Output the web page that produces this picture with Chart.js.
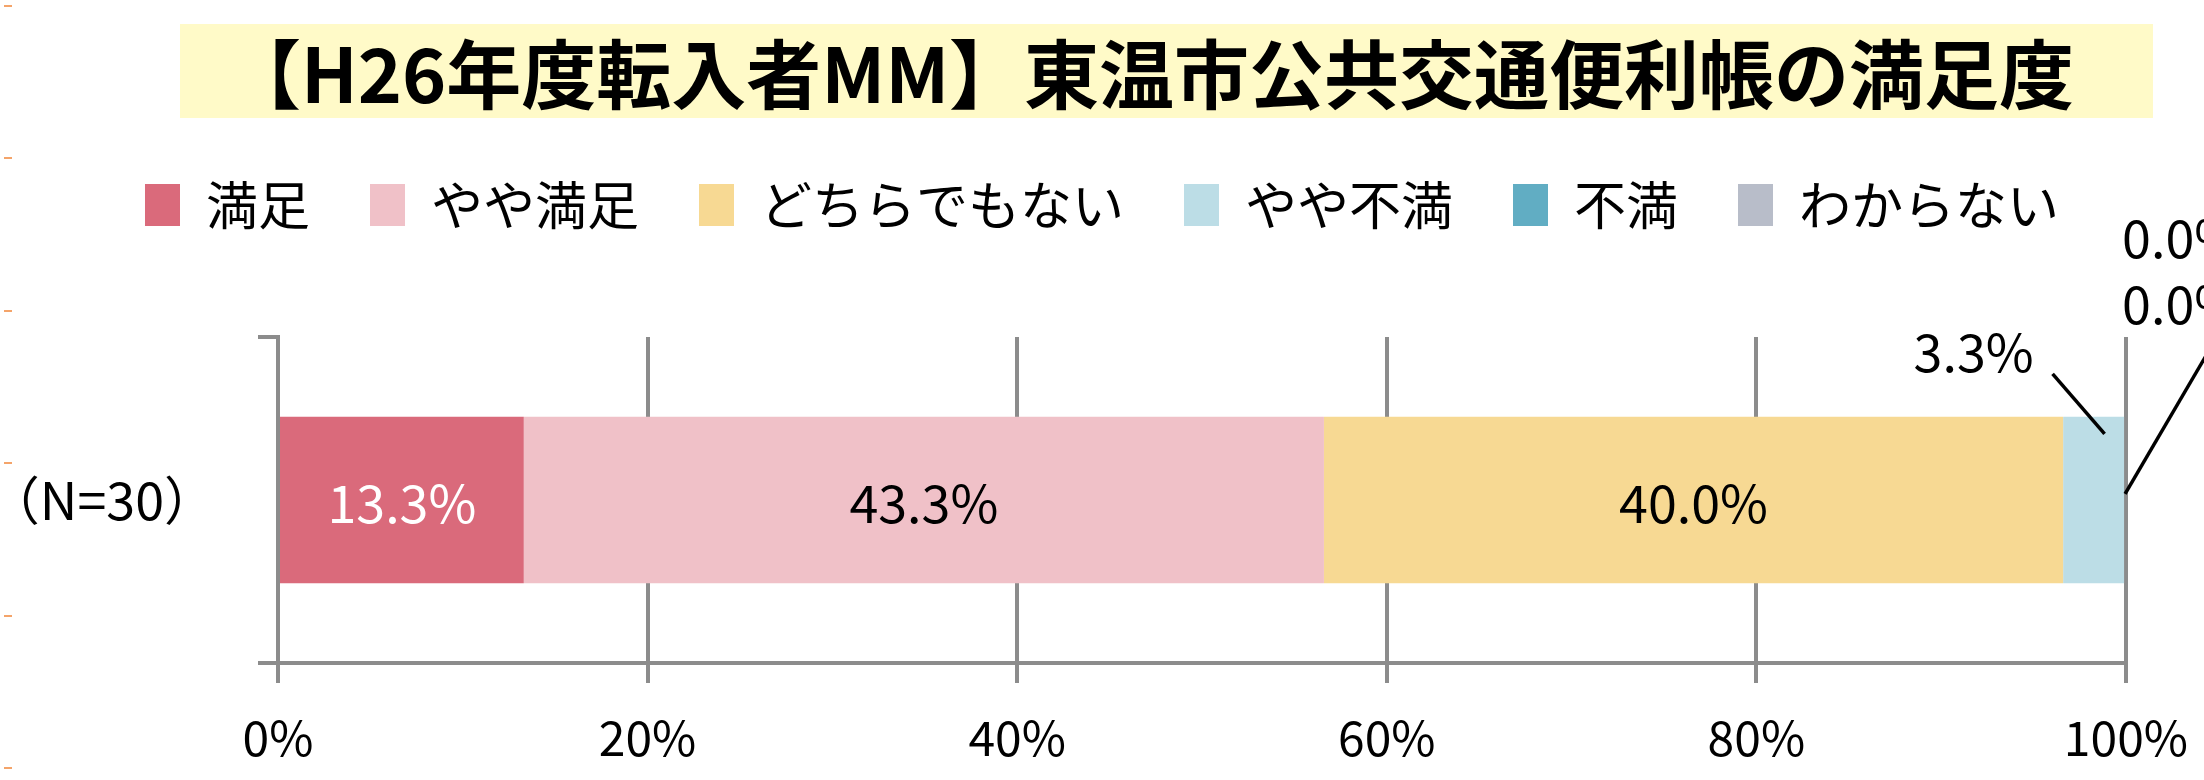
<!DOCTYPE html>
<html>
<head>
<meta charset="utf-8">
<script src="https://cdn.jsdelivr.net/npm/chart.js@4.4.1/dist/chart.umd.min.js"></script>
<style>
html, body { margin: 0; padding: 0; background: #fff; }
</style>
</head>
<body>
<canvas id="canvas" width="2204" height="780"></canvas>
<script>
'use strict';

var FONT = '"Noto Sans CJK JP", "Noto Sans", sans-serif';

// data
var titleText = '【H26年度転入者MM】東温市公共交通便利帳の満足度';
var categories = ['（N=30）'];
var seriesNames = ['満足', 'やや満足', 'どちらでもない', 'やや不満', '不満', 'わからない'];
var seriesValues = [13.3, 43.3, 40.0, 3.3, 0.0, 0.0];
var xTicks = [0, 20, 40, 60, 80, 100];

// styles
var seriesColors = ['#DA6A7B', '#F0C1C8', '#F7D993', '#BCDDE6', '#61ADC3', '#B8BDC9'];
var labelColors = ['#FFFFFF', '#000000', '#000000', '#000000', '#000000', '#000000'];
var GRID = '#8C8C8C';

var datasets = seriesNames.map(function(name, i) {
	return {
		label: name,
		data: [seriesValues[i]],
		backgroundColor: seriesColors[i],
		borderWidth: 0,
		xAxisID: 'x',
		yAxisID: 'y',
		barPercentage: 0.51,
		categoryPercentage: 1.0
	};
});

// title box drawn behind everything
var titlePlugin = {
	id: 'titleBox',
	beforeDraw: function(chart) {
		var ctx = chart.ctx;
		ctx.save();
		ctx.fillStyle = '#FFFAC8';
		ctx.fillRect(180, 24, 1973, 94);
		ctx.fillStyle = '#000';
		ctx.font = 'bold 75px ' + FONT;
		ctx.textAlign = 'center';
		ctx.textBaseline = 'middle';
		ctx.fillText(titleText, 1150, 74);
		// little orange marks at the left edge
		ctx.strokeStyle = '#F4A46A';
		ctx.lineWidth = 2;
		[6, 158, 311, 463, 616, 768].forEach(function(y) {
			ctx.beginPath();
			ctx.moveTo(4, y);
			ctx.lineTo(12, y);
			ctx.stroke();
		});
		ctx.restore();
	}
};

// value labels, with leader lines for the small ones
var labelPlugin = {
	id: 'valueLabels',
	afterDatasetsDraw: function(chart) {
		var ctx = chart.ctx;
		ctx.save();
		ctx.font = '52px ' + FONT;
		ctx.textBaseline = 'middle';
		ctx.lineWidth = 3.5;
		ctx.strokeStyle = '#000';
		chart.data.datasets.forEach(function(ds, i) {
			var el = chart.getDatasetMeta(i).data[0];
			var txt = ds.data[0].toFixed(1) + '%';
			var left = Math.min(el.x, el.base), right = Math.max(el.x, el.base);
			var top = el.y - el.height / 2;
			var cx = (left + right) / 2;
			ctx.fillStyle = labelColors[i];
			if (i < 3) {
				ctx.textAlign = 'center';
				ctx.fillText(txt, cx, el.y + 3);
			} else if (i === 3) {
				ctx.textAlign = 'center';
				ctx.fillText(txt, cx - 120, top - 65);
				ctx.beginPath();
				ctx.moveTo(cx - 41, top - 43);
				ctx.lineTo(cx + 11, top + 17);
				ctx.stroke();
			} else if (i === 4) {
				ctx.textAlign = 'left';
				ctx.fillText(txt, right - 2, top - 113);
				ctx.beginPath();
				ctx.moveTo(right + 1, top + 77);
				ctx.lineTo(right + 90, top - 75);
				ctx.stroke();
			} else {
				ctx.textAlign = 'left';
				ctx.fillText(txt, right - 2, top - 179);
			}
		});
		ctx.restore();
	}
};

window.onload = function() {
	var ctx = document.getElementById('canvas').getContext('2d');
	window.myBar = new Chart(ctx, {
		type: 'bar',
		data: {
			labels: categories,
			datasets: datasets
		},
		plugins: [titlePlugin, labelPlugin],
		options: {
			indexAxis: 'y',
			responsive: false,
			animation: false,
			devicePixelRatio: 1,
			layout: {
				padding: { top: 119, left: 0, right: 0, bottom: 0 }
			},
			plugins: {
				title: { display: false },
				tooltip: { enabled: false },
				legend: {
					display: true,
					position: 'top',
					labels: {
						font: { size: 52, family: FONT },
						color: '#000',
						boxWidth: 35,
						boxHeight: 42,
						padding: 60
					}
				}
			},
			scales: {
				x: {
					type: 'linear',
					position: 'bottom',
					stacked: true,
					min: 0,
					max: 100,
					afterBuildTicks: function(scale) {
						scale.ticks = xTicks.map(function(v) { return { value: v }; });
					},
					afterFit: function(scale) { scale.height = 117; },
					grid: { color: GRID, lineWidth: 4, tickLength: 20, drawTicks: true },
					border: { display: true, color: GRID, width: 4, z: 1 },
					ticks: {
						color: '#000',
						padding: 16,
						font: { size: 48, family: FONT, lineHeight: 1.6 },
						callback: function(v) { return v + '%'; }
					}
				},
				spacerTop: {
					type: 'linear',
					position: 'top',
					display: true,
					grid: { display: false },
					border: { display: false },
					ticks: { display: false },
					afterFit: function(scale) { scale.height = 96; }
				},
				y: {
					type: 'category',
					position: 'left',
					stacked: true,
					afterFit: function(scale) { scale.width = 278; },
					grid: { color: GRID, lineWidth: 4, tickLength: 20, drawOnChartArea: false, offset: true },
					border: { display: true, color: GRID, width: 4, z: 1 },
					ticks: {
						color: '#000',
						padding: 42,
						font: { size: 52, family: FONT }
					}
				}
			}
		}
	});
};
</script>
</body>
</html>
